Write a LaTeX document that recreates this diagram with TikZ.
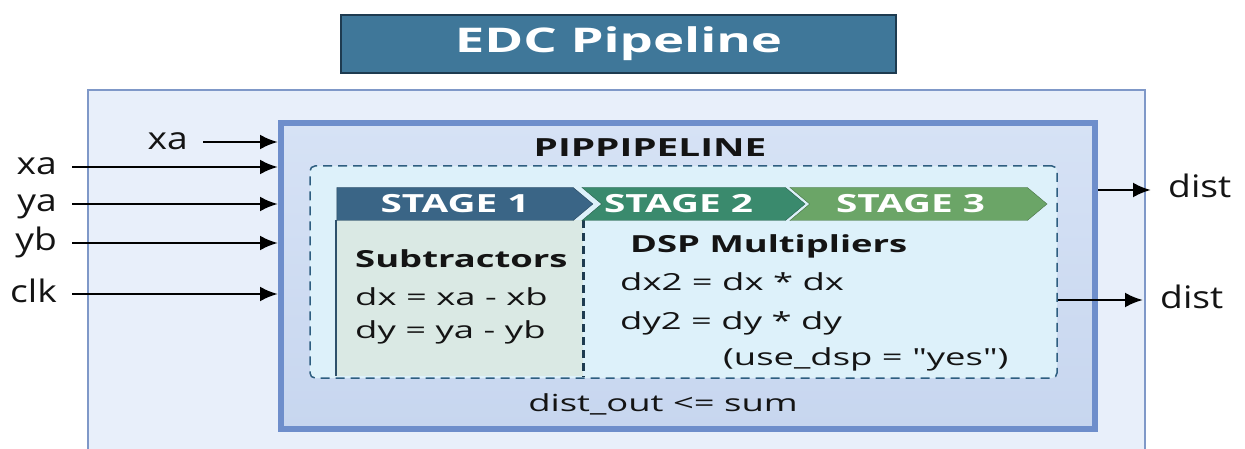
\documentclass[tikz,border=0pt]{standalone}
\usepackage{fontspec}
\setmainfont{Open Sans}[FakeStretch=1.55, Ligatures=TeXOff]
\newfontfamily\pinfont{Open Sans}[FakeStretch=1.2]
\usetikzlibrary{shapes.symbols, arrows.meta, positioning}

\definecolor{titleblue}{HTML}{3F7799}
\definecolor{titleedge}{HTML}{1E3B50}
\definecolor{shellfill}{HTML}{E8EFFA}
\definecolor{shelledge}{HTML}{7F98C8}
\definecolor{pipeedge}{HTML}{6E8ECB}
\definecolor{pipetop}{HTML}{D6E2F5}
\definecolor{pipebot}{HTML}{C7D6EF}
\definecolor{stagefill}{HTML}{DDF1FA}
\definecolor{stageedge}{HTML}{2E5E80}
\definecolor{subfill}{HTML}{DAE9E4}
\definecolor{stageone}{HTML}{3A6586}
\definecolor{stagetwo}{HTML}{3A8A6D}
\definecolor{stagethree}{HTML}{6BA567}
\definecolor{ink}{HTML}{141414}

\begin{document}
\begin{tikzpicture}[x=1pt, y=-1pt,
  box/.style={draw, rectangle, inner sep=0pt},
  stage/.style={signal, signal to=east, signal pointer angle=80, minimum height=33pt, inner sep=0pt, text=white, font=\bfseries\fontsize{25}{25}\selectfont},
  pin/.style={inner sep=0pt, text height=16pt, text depth=0pt, text=ink, font=\pinfont\fontsize{31}{31}\selectfont},
  body/.style={anchor=base west, inner sep=0pt, text=ink, font=\fontsize{23.5}{23.5}\selectfont},
  head/.style={body, font=\bfseries\fontsize{23.5}{23.5}\selectfont},
  sig/.style={-{Latex[length=18pt,width=15pt]}, line width=2.8pt}]
\useasboundingbox (0,0) rectangle (1245,449);
\fill[white] (0,0) rectangle (1245,449);

% title bar
\node[box, fill=titleblue, draw=titleedge, line width=2.5pt, minimum width=555pt, minimum height=58pt, text=white, font=\bfseries\fontsize{34}{34}\selectfont] (title) at (618.5,44) {EDC Pipeline};

% enclosing blocks
\node[box, fill=shellfill, draw=shelledge, line width=2pt, minimum width=1057pt, minimum height=400pt] (shell) at (616.5,290) {};
\node[box, draw=pipeedge, top color=pipetop, bottom color=pipebot, line width=6pt, minimum width=814pt, minimum height=306pt] (pipe) at (688,276) {};
\node[text=ink, font=\bfseries\fontsize{25}{25}\selectfont] (pipename) at (650,148) {PIPPIPELINE};
\node[box, draw=stageedge, fill=stagefill, line width=1.5pt, dash pattern=on 9pt off 6pt, rounded corners=5pt, minimum width=747pt, minimum height=212pt] (stages) at (683.5,272) {};

% stage 1 panel
\node[inner sep=0pt, fill=subfill, minimum width=247pt, minimum height=156pt, anchor=north west] (subpanel) at (336,220) {};
\draw[stageone!80!black, line width=2pt] (subpanel.north west) -- (subpanel.south west);
\draw[titleedge, line width=2.5pt, dash pattern=on 8pt off 5pt] (subpanel.north east) -- (subpanel.south east);

% stage banners
\node[stage, fill=stageone, draw=stageone!70!black, minimum width=256pt] (S1) at (455,204) {STAGE 1};
\node[stage, signal from=west, fill=stagetwo, draw=stagetwo!70!black, minimum width=223pt,
  label={[text=white, xshift=-15pt, font=\bfseries\fontsize{25}{25}\selectfont]center:STAGE 2}] (S2) at (693.5,204) {};
\node[stage, signal from=west, fill=stagethree, draw=stagethree!70!black, minimum width=257pt,
  label={[text=white, xshift=-8pt, font=\bfseries\fontsize{25}{25}\selectfont]center:STAGE 3}] (S3) at (918.5,204) {};

% stage contents
\node[head] (subhead) at (355,268) {Subtractors};
\node[body] (dxline) at (355,305) {dx = xa - xb};
\node[body] (dyline) at (355,338) {dy = ya - yb};
\node[head] (mulhead) at (630,253) {DSP Multipliers};
\node[body] (dxsq) at (620,290) {dx2 = dx * dx};
\node[body] (dysq) at (620,329) {dy2 = dy * dy};
\node[body] (dspattr) at (723,365) {(use\_dsp = "yes")};
\node[body, anchor=base] (sumline) at (663,411) {dist\_out <= sum};

% ports
\node[pin, anchor=east] (inA) at (188,142) {xa};
\node[pin, anchor=east] (inXa) at (57,167) {xa};
\node[pin, anchor=east] (inYa) at (57,204) {ya};
\node[pin, anchor=east] (inYb) at (57,243) {yb};
\node[pin, anchor=east] (inClk) at (57,294) {clk};
\node[pin, anchor=west] (outA) at (1168,190) {dist};
\node[pin, anchor=west] (outB) at (1160,300) {dist};

\foreach \p in {inA, inXa, inYa, inYb, inClk}
  \draw[sig] ([xshift=15pt]\p.east) -- (pipe.west |- \p.east);
\draw[sig] (pipe.east |- outA.west) -- ([xshift=-17pt]outA.west);
\draw[sig] (stages.east |- outB.west) -- ([xshift=-17pt]outB.west);
\end{tikzpicture}
\end{document}
